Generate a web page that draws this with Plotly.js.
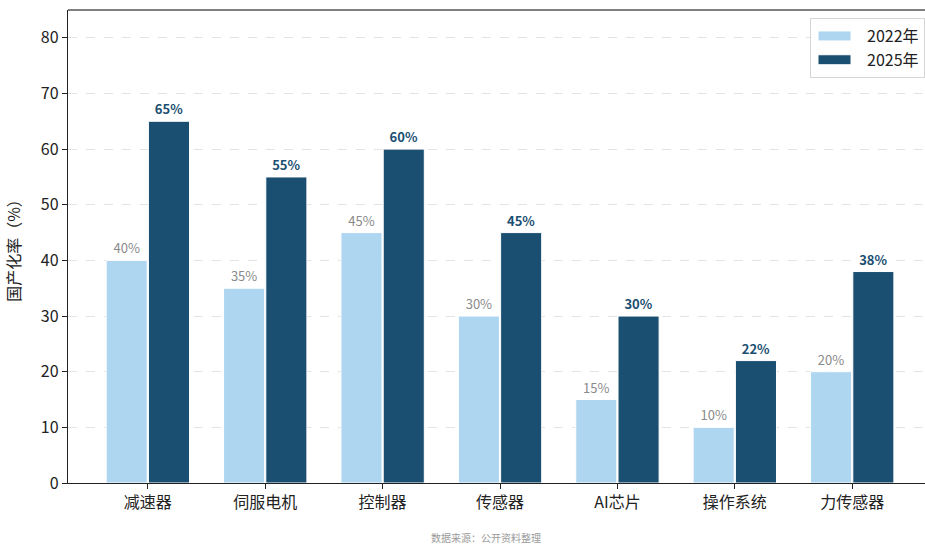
<!DOCTYPE html>
<html>
<head>
<meta charset="utf-8">
<script src="https://cdn.plot.ly/plotly-3.0.1.min.js"></script>
<style>
  html, body { margin: 0; padding: 0; background: #fff; overflow: hidden; }
  #chart { width: 925px; height: 545px; }
</style>
</head>
<body>
<div id="chart"></div>
<script>
// 人形机器人核心零部件国产化率
const categories = ['减速器', '伺服电机', '控制器', '传感器', 'AI芯片', '操作系统', '力传感器'];
const rate2022 = [40, 35, 45, 30, 15, 10, 20];
const rate2025 = [65, 55, 60, 45, 30, 22, 38];
const yTicks = [0, 10, 20, 30, 40, 50, 60, 70, 80];

const FONT = '"Noto Sans CJK SC", "Noto Sans", sans-serif';
const LIGHT = '#aed6f1';
const DARK = '#1b4f72';

const idx = categories.map((_, i) => i);

const traces = [
  {
    type: 'bar',
    name: '2022年',
    x: idx,
    y: rate2022,
    width: 0.35,
    offset: -0.355,
    marker: { color: LIGHT, line: { color: '#ffffff', width: 1 } },
    text: rate2022.map(v => v + '%'),
    textposition: 'outside',
    cliponaxis: false,
    textfont: { family: FONT, size: 13, color: '#8a8a8a' },
    hoverinfo: 'skip'
  },
  {
    type: 'bar',
    name: '2025年',
    x: idx,
    y: rate2025,
    width: 0.35,
    offset: 0.005,
    marker: { color: DARK, line: { color: '#ffffff', width: 1 } },
    text: rate2025.map(v => '<b>' + v + '%</b>'),
    textposition: 'outside',
    cliponaxis: false,
    textfont: { family: FONT, size: 13, color: DARK },
    hoverinfo: 'skip'
  }
];

const layout = {
  width: 925,
  height: 545,
  margin: { l: 68, r: 0, t: 10, b: 62 },
  paper_bgcolor: '#ffffff',
  plot_bgcolor: '#ffffff',
  font: { family: FONT, size: 16, color: '#222' },
  barmode: 'overlay',
  showlegend: true,
  legend: {
    x: 1, xanchor: 'right',
    y: 0.983, yanchor: 'top',
    bgcolor: 'rgba(255,255,255,0.9)',
    bordercolor: '#d6d6d6',
    borderwidth: 1,
    font: { family: FONT, size: 16, color: '#222' },
    itemwidth: 46,
    tracegroupgap: 4
  },
  xaxis: {
    range: [-0.68, 6.62],
    tickmode: 'array',
    tickvals: idx,
    ticktext: categories,
    ticks: 'outside',
    ticklen: 5,
    tickcolor: '#222',
    showline: true,
    linecolor: '#222',
    linewidth: 1.2,
    showgrid: false,
    zeroline: false,
    tickfont: { family: FONT, size: 16, color: '#222' }
  },
  yaxis: {
    range: [0, 85],
    tickmode: 'array',
    tickvals: yTicks,
    ticks: 'outside',
    ticklen: 5,
    tickcolor: '#222',
    showline: true,
    linecolor: '#222',
    linewidth: 1.2,
    showgrid: true,
    gridcolor: '#e3e3e3',
    griddash: 'dash',
    gridwidth: 1,
    zeroline: false,
    tickfont: { family: FONT, size: 16, color: '#222' },
    title: { text: '国产化率（%）', standoff: 16, font: { family: FONT, size: 16, color: '#222' } }
  },
  shapes: [
    {
      type: 'line', xref: 'paper', yref: 'paper',
      x0: 0, x1: 1, y0: 1, y1: 1,
      line: { color: '#555555', width: 1.5 }
    }
  ],
  annotations: [
    {
      text: '数据来源：公开资料整理',
      xref: 'paper', yref: 'paper',
      x: 0.488, y: -0.116,
      xanchor: 'center', yanchor: 'middle',
      showarrow: false,
      font: { family: FONT, size: 10, color: '#9a9a9a' }
    }
  ]
};

Plotly.newPlot('chart', traces, layout, { displayModeBar: false, staticPlot: true }).then(gd => {
  // widen the legend swatches into flat rectangles
  gd.querySelectorAll('.legend .legendpoints path').forEach(p => {
    p.setAttribute('d', 'M12,5H-21V-5H12Z');
  });
});
</script>
</body>
</html>
